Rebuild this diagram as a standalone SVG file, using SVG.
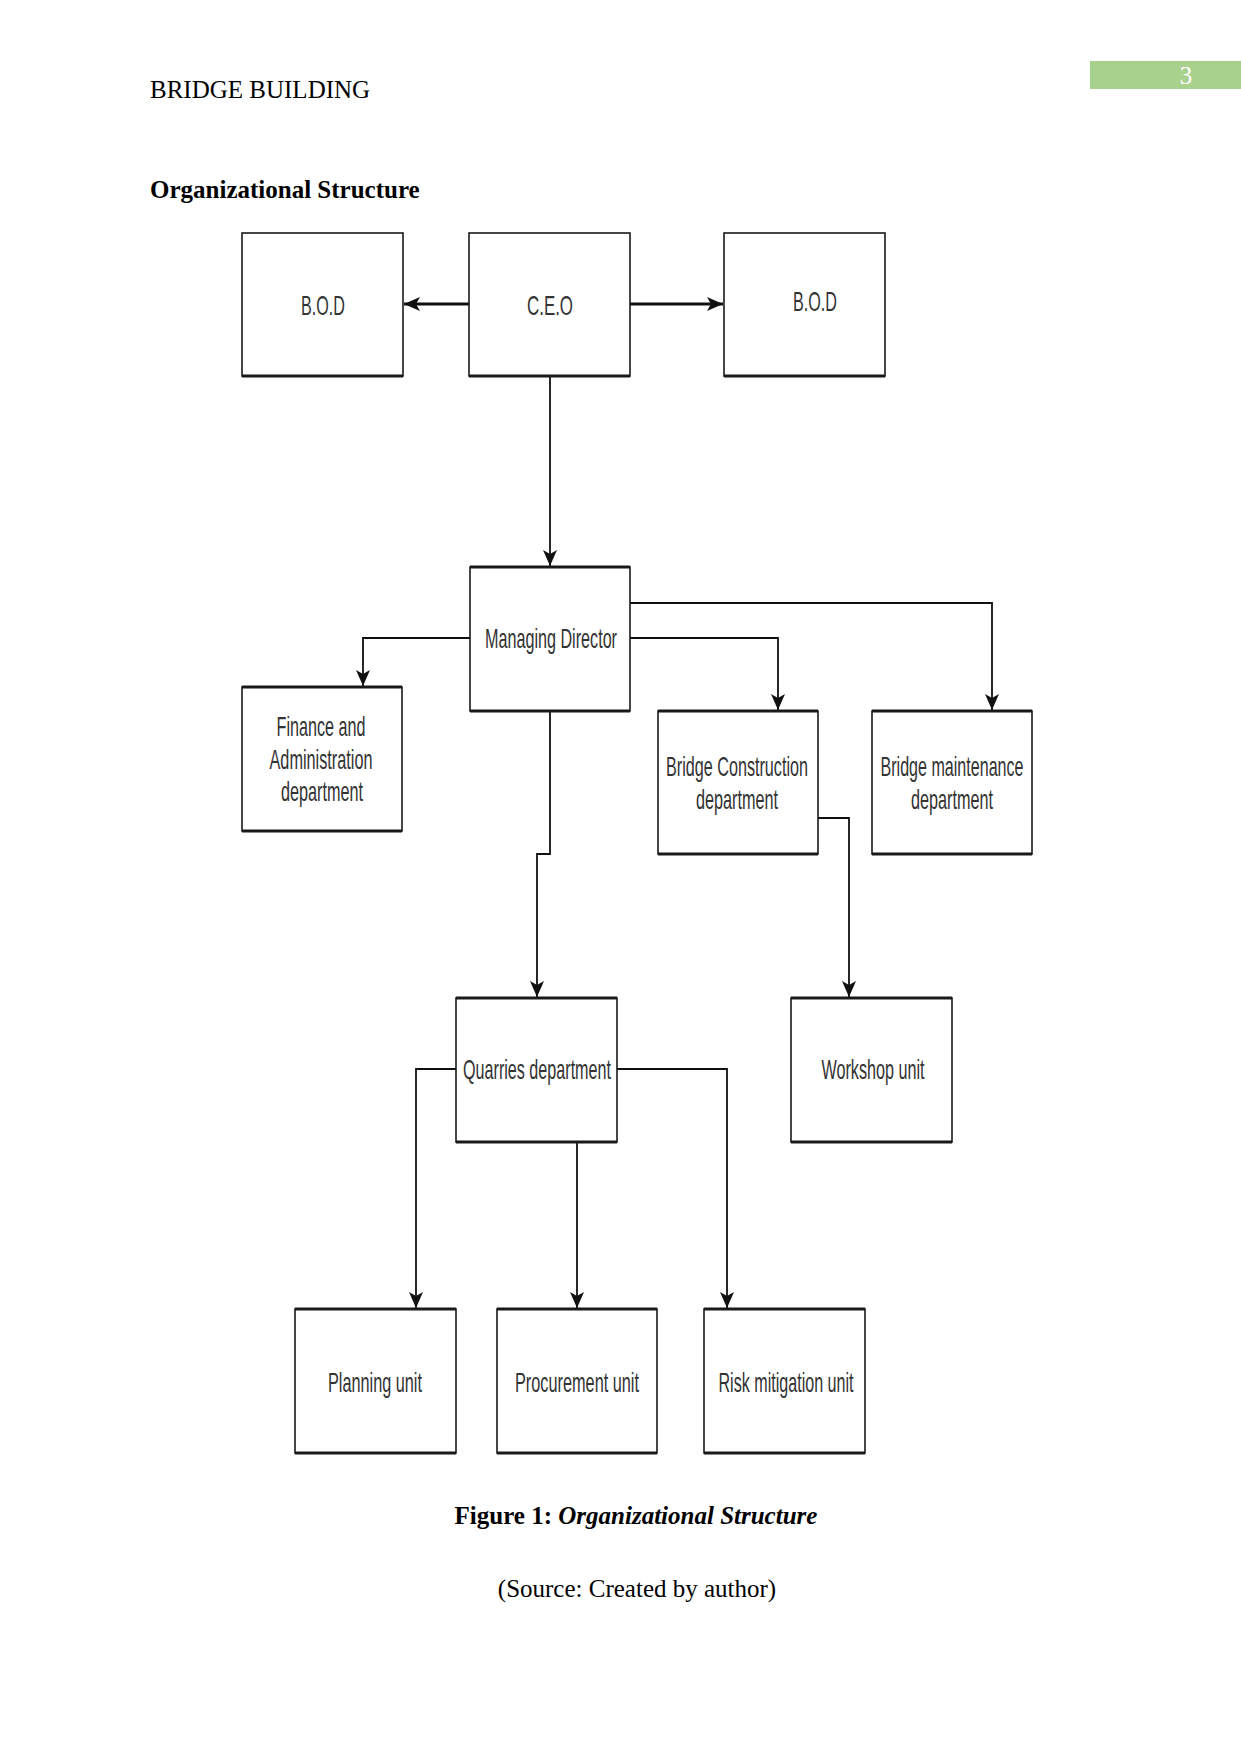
<svg xmlns="http://www.w3.org/2000/svg" width="1241" height="1754" viewBox="0 0 1241 1754">
<style>
.page{font-family:"Liberation Serif","Times New Roman",serif;font-size:25px;fill:#000}
.box{fill:#fff;stroke:#1a1a1a;stroke-width:1.6}
.base{stroke:#1a1a1a;stroke-width:3.2}
.lbl{font-family:"Liberation Sans Narrow","Liberation Sans",Arial,sans-serif;font-size:28px;fill:#333}
.con{fill:none;stroke:#111;stroke-width:1.8}
.thick{fill:none;stroke:#111;stroke-width:3}
</style>
<defs>
<marker id="arr" markerUnits="userSpaceOnUse" markerWidth="18" markerHeight="14" refX="16" refY="7" orient="auto">
<path d="M0,0 L16,7 L0,14 L4,7 z" fill="#111"/>
</marker>
</defs>
<rect width="1241" height="1754" fill="#fff"/>
<rect x="1090" y="61" width="151" height="28" fill="#a9d18e"/>
<text class="page" x="1186" y="84" text-anchor="middle" style="fill:#fff">3</text>
<text class="page" x="150" y="98">BRIDGE BUILDING</text>
<text class="page" x="150" y="198" font-weight="bold">Organizational Structure</text>

<g id="connectors">
<path class="thick" d="M469,304 L404,304" marker-end="url(#arr)"/>
<path class="thick" d="M630,304 L723,304" marker-end="url(#arr)"/>
<path class="con" d="M550,376 L550,566" marker-end="url(#arr)"/>
<path class="con" d="M470,638 L363,638 L363,686" marker-end="url(#arr)"/>
<path class="con" d="M630,638 L778,638 L778,710" marker-end="url(#arr)"/>
<path class="con" d="M630,603 L992,603 L992,710" marker-end="url(#arr)"/>
<path class="con" d="M550,711 L550,854 L537,854 L537,997" marker-end="url(#arr)"/>
<path class="con" d="M818,818 L849,818 L849,997" marker-end="url(#arr)"/>
<path class="con" d="M456,1069 L416,1069 L416,1308" marker-end="url(#arr)"/>
<path class="con" d="M577,1142 L577,1308" marker-end="url(#arr)"/>
<path class="con" d="M617,1069 L727,1069 L727,1308" marker-end="url(#arr)"/>
</g>

<g id="bod-left">
<rect class="box" x="242" y="233" width="161" height="143"/><line class="base" x1="242" y1="376" x2="403" y2="376"/>
<text class="lbl" x="323" y="315" text-anchor="middle" textLength="44" lengthAdjust="spacingAndGlyphs">B.O.D</text>
</g>
<g id="ceo">
<rect class="box" x="469" y="233" width="161" height="143"/><line class="base" x1="469" y1="376" x2="630" y2="376"/>
<text class="lbl" x="550" y="315" text-anchor="middle" textLength="46" lengthAdjust="spacingAndGlyphs">C.E.O</text>
</g>
<g id="bod-right">
<rect class="box" x="724" y="233" width="161" height="143"/><line class="base" x1="724" y1="376" x2="885" y2="376"/>
<text class="lbl" x="815" y="311" text-anchor="middle" textLength="44" lengthAdjust="spacingAndGlyphs">B.O.D</text>
</g>
<g id="managing-director">
<rect class="box" x="470" y="567" width="160" height="144"/><line class="base" x1="470" y1="567" x2="630" y2="567"/><line class="base" x1="470" y1="711" x2="630" y2="711"/>
<text class="lbl" x="551" y="648" text-anchor="middle" textLength="132" lengthAdjust="spacingAndGlyphs">Managing Director</text>
</g>
<g id="finance">
<rect class="box" x="242" y="687" width="160" height="144"/><line class="base" x1="242" y1="687" x2="402" y2="687"/><line class="base" x1="242" y1="831" x2="402" y2="831"/>
<text class="lbl" x="321" y="736" text-anchor="middle" textLength="89" lengthAdjust="spacingAndGlyphs">Finance and</text>
<text class="lbl" x="321" y="769" text-anchor="middle" textLength="103" lengthAdjust="spacingAndGlyphs">Administration</text>
<text class="lbl" x="322" y="801" text-anchor="middle" textLength="82" lengthAdjust="spacingAndGlyphs">department</text>
</g>
<g id="bridge-construction">
<rect class="box" x="658" y="711" width="160" height="143"/><line class="base" x1="658" y1="711" x2="818" y2="711"/><line class="base" x1="658" y1="854" x2="818" y2="854"/>
<text class="lbl" x="737" y="776" text-anchor="middle" textLength="142" lengthAdjust="spacingAndGlyphs">Bridge Construction</text>
<text class="lbl" x="737" y="809" text-anchor="middle" textLength="82" lengthAdjust="spacingAndGlyphs">department</text>
</g>
<g id="bridge-maintenance">
<rect class="box" x="872" y="711" width="160" height="143"/><line class="base" x1="872" y1="711" x2="1032" y2="711"/><line class="base" x1="872" y1="854" x2="1032" y2="854"/>
<text class="lbl" x="952" y="776" text-anchor="middle" textLength="143" lengthAdjust="spacingAndGlyphs">Bridge maintenance</text>
<text class="lbl" x="952" y="809" text-anchor="middle" textLength="82" lengthAdjust="spacingAndGlyphs">department</text>
</g>
<g id="quarries">
<rect class="box" x="456" y="998" width="161" height="144"/><line class="base" x1="456" y1="998" x2="617" y2="998"/><line class="base" x1="456" y1="1142" x2="617" y2="1142"/>
<text class="lbl" x="537" y="1079" text-anchor="middle" textLength="148" lengthAdjust="spacingAndGlyphs">Quarries department</text>
</g>
<g id="workshop">
<rect class="box" x="791" y="998" width="161" height="144"/><line class="base" x1="791" y1="998" x2="952" y2="998"/><line class="base" x1="791" y1="1142" x2="952" y2="1142"/>
<text class="lbl" x="873" y="1079" text-anchor="middle" textLength="103" lengthAdjust="spacingAndGlyphs">Workshop unit</text>
</g>
<g id="planning">
<rect class="box" x="295" y="1309" width="161" height="144"/><line class="base" x1="295" y1="1309" x2="456" y2="1309"/><line class="base" x1="295" y1="1453" x2="456" y2="1453"/>
<text class="lbl" x="375" y="1392" text-anchor="middle" textLength="94" lengthAdjust="spacingAndGlyphs">Planning unit</text>
</g>
<g id="procurement">
<rect class="box" x="497" y="1309" width="160" height="144"/><line class="base" x1="497" y1="1309" x2="657" y2="1309"/><line class="base" x1="497" y1="1453" x2="657" y2="1453"/>
<text class="lbl" x="577" y="1392" text-anchor="middle" textLength="124" lengthAdjust="spacingAndGlyphs">Procurement unit</text>
</g>
<g id="risk">
<rect class="box" x="704" y="1309" width="161" height="144"/><line class="base" x1="704" y1="1309" x2="865" y2="1309"/><line class="base" x1="704" y1="1453" x2="865" y2="1453"/>
<text class="lbl" x="786" y="1392" text-anchor="middle" textLength="135" lengthAdjust="spacingAndGlyphs">Risk mitigation unit</text>
</g>

<text class="page" x="636" y="1524" text-anchor="middle"><tspan font-weight="bold">Figure 1: </tspan><tspan font-weight="bold" font-style="italic">Organizational Structure</tspan></text>
<text class="page" x="637" y="1597" text-anchor="middle">(Source: Created by author)</text>
</svg>
